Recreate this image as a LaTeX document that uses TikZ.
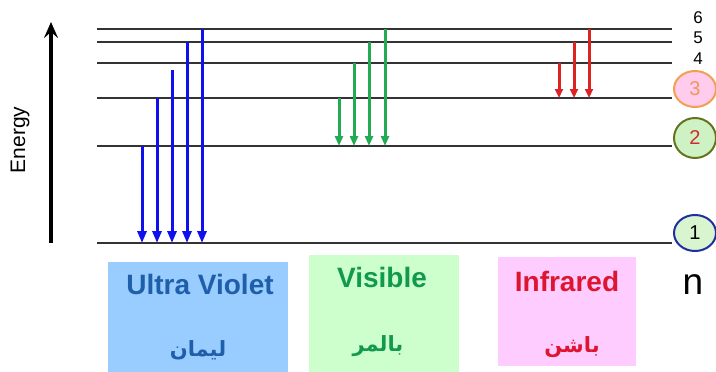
\documentclass[tikz,border=0pt]{standalone}
\usepackage{fontspec}
\setmainfont{Liberation Sans}
\newfontfamily\arabicfont[Script=Arabic]{DejaVu Sans}
\TeXXeTstate=1
\usetikzlibrary{arrows.meta,shapes.geometric}
\definecolor{uvfill}{HTML}{99CCFF}
\definecolor{uvtext}{HTML}{1F5FAA}
\definecolor{visfill}{HTML}{CCFFCC}
\definecolor{vistext}{HTML}{129A4C}
\definecolor{irfill}{HTML}{FFCCFF}
\definecolor{irtext}{HTML}{DD1530}
\definecolor{greenarrow}{HTML}{22AA55}
\definecolor{redarrow}{HTML}{DD2222}
\definecolor{bluearrow}{HTML}{1010EE}
\tikzset{
  level/.style={line width=1.8pt, draw=black!80},
  uvline/.style={line width=3pt, draw=bluearrow, -{Triangle[length=12pt,width=9pt]}},
  visline/.style={line width=3pt, draw=greenarrow, -{Triangle[length=10pt,width=8pt]}},
  irline/.style={line width=3pt, draw=redarrow, -{Triangle[length=9pt,width=8pt]}},
  shell/.style={ellipse, line width=2pt, minimum width=42pt, minimum height=36pt, inner sep=0pt, font=\fontsize{20}{20}\selectfont},
  bandtitle/.style={font=\fontsize{28}{30}\selectfont\bfseries},
  bandname/.style={font=\fontsize{21}{24}\selectfont\arabicfont\bfseries}
}
\begin{document}
\begin{tikzpicture}[x=1pt,y=-1pt]
\useasboundingbox (0,0) rectangle (716,372);
% energy levels
\draw[level] (97,29) -- (672,29);
\draw[level] (97,42) -- (672,42);
\draw[level] (97,63) -- (672,63);
\draw[level] (97,98) -- (672,98);
\draw[level] (97,146) -- (672,146);
\draw[level] (97,243) -- (672,243);
% energy axis
\draw[line width=3.5pt, -{Stealth[length=16pt,width=14pt,inset=6pt]}] (51,243) -- (51,22);
\node[rotate=90, font=\fontsize{21}{21}\selectfont] (energy) at (20,140) {Energy};
% Lyman
\draw[uvline] (142,146) -- (142,243);
\draw[uvline] (157,98) -- (157,243);
\draw[uvline] (172,70) -- (172,243);
\draw[uvline] (187,42) -- (187,243);
\draw[uvline] (202,29) -- (202,243);
% Balmer
\draw[visline] (339,98) -- (339,146);
\draw[visline] (354,63) -- (354,146);
\draw[visline] (369,42) -- (369,146);
\draw[visline] (385,29) -- (385,146);
% Paschen
\draw[irline] (559,63) -- (559,98);
\draw[irline] (574,42) -- (574,98);
\draw[irline] (589,29) -- (589,98);
% level numbers
\node[font=\fontsize{17}{17}\selectfont] (six) at (698,18) {6};
\node[font=\fontsize{17}{17}\selectfont] (five) at (698,38) {5};
\node[font=\fontsize{17}{17}\selectfont] (four) at (698,59) {4};
\node[shell, draw={rgb,255:red,240;green,160;blue,80}, fill={rgb,255:red,255;green,204;blue,238}, text={rgb,255:red,240;green,150;blue,90}] (three) at (695,89) {3};
\node[shell, draw={rgb,255:red,100;green,115;blue,30}, fill={rgb,255:red,206;green,242;blue,196}, text={rgb,255:red,205;green,45;blue,45}, minimum height=40pt] (two) at (695,138) {2};
\node[shell, draw={rgb,255:red,30;green,45;blue,160}, fill={rgb,255:red,216;green,245;blue,208}] (one) at (695,233) {1};
\node[font=\fontsize{37}{37}\selectfont] (n) at (693,285) {n};
% series boxes
\fill[uvfill] (108,262) rectangle (288,372);
\fill[visfill] (309,255) rectangle (459,372);
\fill[irfill] (498,257) rectangle (636,366);
\node[bandtitle, text=uvtext] (uv) at (200,284) {Ultra Violet};
\node[bandtitle, text=vistext] (vis) at (382,277) {Visible};
\node[bandtitle, text=irtext] (ir) at (567,281) {Infrared};
\node[bandname, text=uvtext] (lyman) at (198,350) {\beginR ليمان\endR};
\node[bandname, text=vistext] (balmer) at (378,346) {\beginR بالمر\endR};
\node[bandname, text=irtext] (paschen) at (572,347) {\beginR باشن\endR};
\end{tikzpicture}
\end{document}
